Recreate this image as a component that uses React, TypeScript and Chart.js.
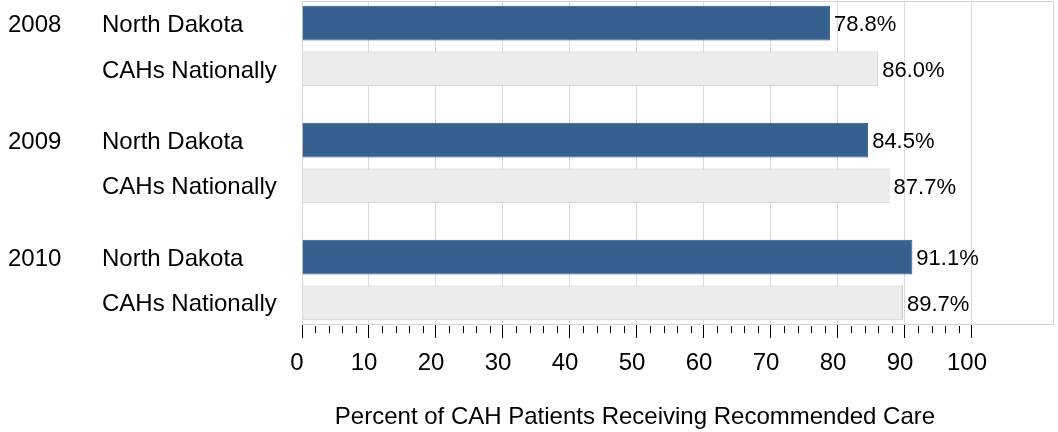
import React, { useEffect, useRef } from "react";
import { Chart, registerables } from "chart.js";

Chart.register(...registerables);

const years = ["2008", "2009", "2010"];
const seriesNames = ["North Dakota", "CAHs Nationally"];
const northDakota = [78.8, 84.5, 91.1];
const cahsNationally = [86.0, 87.7, 89.7];
const xTickValues = [0, 10, 20, 30, 40, 50, 60, 70, 80, 90, 100];
const axisTitle = "Percent of CAH Patients Receiving Recommended Care";

const FONT = "'Liberation Sans', Arial, Helvetica, sans-serif";

const labelsPlugin = {
  id: "customLabels",
  beforeDatasetsDraw(chart: any) {
    const { ctx, chartArea } = chart;
    ctx.save();
    ctx.strokeStyle = "#d4d4d4";
    ctx.lineWidth = 1;
    ctx.strokeRect(
      Math.round(chartArea.left) + 0.5,
      Math.round(chartArea.top) + 0.5,
      Math.round(chartArea.right - chartArea.left) - 1,
      Math.round(chartArea.bottom - chartArea.top) - 1
    );
    ctx.restore();
  },
  afterDraw(chart: any) {
    const { ctx, chartArea } = chart;
    const xScale = chart.scales.x;
    ctx.save();
    // minor ticks
    ctx.strokeStyle = "#000";
    ctx.lineWidth = 1;
    for (let v = 0; v <= 100; v += 2) {
      if (v % 10 === 0) continue;
      const px = Math.round(xScale.getPixelForValue(v)) + 0.5;
      ctx.beginPath();
      ctx.moveTo(px, chartArea.bottom + 1);
      ctx.lineTo(px, chartArea.bottom + 8);
      ctx.stroke();
    }
    // category labels and value labels
    ctx.fillStyle = "#000";
    ctx.textBaseline = "middle";
    ctx.textAlign = "left";
    chart.data.datasets.forEach((ds: any, di: number) => {
      const meta = chart.getDatasetMeta(di);
      meta.data.forEach((bar: any, i: number) => {
        ctx.font = `24px ${FONT}`;
        if (di === 0) ctx.fillText(years[i], 8, bar.y + 2);
        ctx.fillText(seriesNames[di], 102, bar.y + 2);
        ctx.font = `22px ${FONT}`;
        const v = ds.data[i].x as number;
        ctx.fillText(v.toFixed(1) + "%", bar.x + 4, bar.y + 2);
      });
    });
    // axis title
    ctx.font = `24px ${FONT}`;
    ctx.textAlign = "center";
    ctx.fillText(axisTitle, xScale.getPixelForValue(50) - 2, 417);
    ctx.restore();
  },
};

export default function App() {
  const ref = useRef<HTMLCanvasElement | null>(null);
  useEffect(() => {
    if (!ref.current) return;
    const chart = new Chart(ref.current, {
      type: "bar",
      data: {
        datasets: [
          {
            label: seriesNames[0],
            data: northDakota.map((v, i) => ({ x: v, y: i })),
            backgroundColor: "#36608f",
            borderColor: "#2f5683",
            borderWidth: 1,
            categoryPercentage: 0.782,
            barPercentage: 0.759,
          },
          {
            label: seriesNames[1],
            data: cahsNationally.map((v, i) => ({ x: v, y: i })),
            backgroundColor: "#ececec",
            borderColor: "#c8c8c8",
            borderWidth: 1,
            categoryPercentage: 0.782,
            barPercentage: 0.759,
          },
        ],
      },
      options: {
        indexAxis: "y",
        responsive: false,
        maintainAspectRatio: false,
        devicePixelRatio: 1,
        animation: false,
        layout: { padding: { left: 302, right: 4, top: 1, bottom: 0 } },
        plugins: { legend: { display: false }, tooltip: { enabled: false } },
        scales: {
          y: {
            type: "linear",
            min: -0.385,
            max: 2.385,
            reverse: true,
            offset: false,
            display: false,
            afterBuildTicks: (scale: any) => {
              scale.ticks = years.map((_, i) => ({ value: i }));
            },
          },
          x: {
            type: "linear",
            position: "bottom",
            min: 0,
            max: 112.24,
            afterBuildTicks: (scale: any) => {
              scale.ticks = xTickValues.map((v) => ({ value: v }));
            },
            afterFit: (scale: any) => {
              scale.height = 107;
            },
            ticks: {
              color: "#000",
              font: { family: FONT, size: 24 },
              padding: 11,
              labelOffset: -5,
              maxRotation: 0,
              autoSkip: false,
            },
            grid: {
              color: "#d9d9d9",
              tickColor: "#000",
              tickLength: 13,
              drawTicks: true,
            },
            border: { display: false },
          },
        },
      },
      plugins: [labelsPlugin],
    } as any);
    return () => chart.destroy();
  }, []);
  return (
    <div style={{ position: "fixed", left: 0, top: 0, width: 1058, height: 432, background: "#fff" }}>
      <canvas ref={ref} width={1058} height={432} style={{ display: "block" }} />
    </div>
  );
}
